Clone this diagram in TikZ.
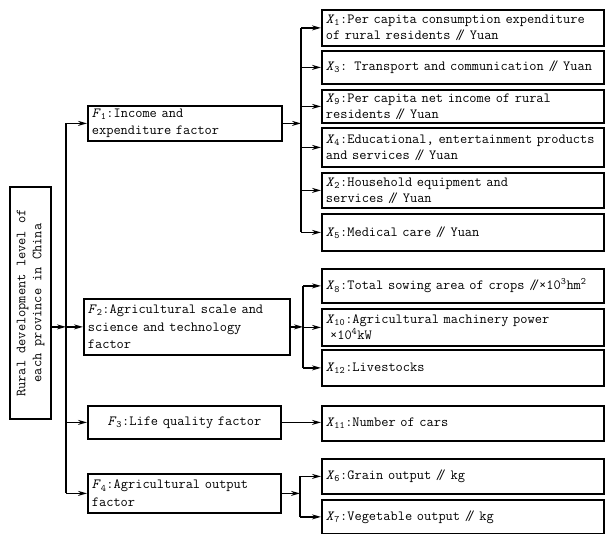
\documentclass[tikz,border=0pt]{standalone}
\usepackage{fontspec}
\usetikzlibrary{arrows.meta}
\newcommand{\sepm}{/\kern-0.32em/}
\newcommand{\vx}[1]{\textit{X}\textsubscript{#1}}
\newcommand{\vf}[1]{\textit{F}\textsubscript{#1}}
\begin{document}
\begin{tikzpicture}[x=1pt,y=-1pt,
  box/.style={draw, line width=1.8pt, inner xsep=4pt, inner ysep=0pt,
    font=\ttfamily\fontsize{14}{16}\selectfont, align=left},
  xbox/.style={box, anchor=north west, text width=274pt, minimum width=282pt},
  fbox/.style={box, anchor=north west, font=\ttfamily\fontsize{14}{17.5}\selectfont},
  arr/.style={line width=1.5pt, -{Stealth[length=9pt,width=5pt]}},
  ln/.style={line width=1.5pt}]
\useasboundingbox (0,0) rectangle (605,534);

% root
\node[box, rotate=90, align=center, minimum width=232pt, minimum height=41pt]
  (root) at (30.5,303) {Rural development level of\\each province in China};

% factors
\node[fbox, text width=186pt, minimum width=194pt, minimum height=35pt] (f1) at (87,105)
  {\vf{1}:Income and\\expenditure factor};
\node[fbox, text width=198pt, minimum width=206pt, minimum height=56pt] (f2) at (83,298)
  {\vf{2}:Agricultural scale and\\science and technology\\factor};
\node[fbox, align=center, text width=185pt, minimum width=193pt, minimum height=33pt] (f3) at (87,405)
  {\vf{3}:Life quality factor};
\node[fbox, text width=185pt, minimum width=193pt, minimum height=39pt] (f4) at (87,473)
  {\vf{4}:Agricultural output\\factor};

% indicators
\node[xbox, minimum height=36pt] (x1) at (321,9)
  {\vx{1}:Per capita consumption expenditure\\of rural residents \sepm{} Yuan};
\node[xbox, minimum height=33pt] (x3) at (321,50)
  {\vx{3}: Transport and communication \sepm{} Yuan};
\node[xbox, minimum height=33pt] (x9) at (321,89)
  {\vx{9}:Per capita net income of rural\\residents \sepm{} Yuan};
\node[xbox, minimum height=39pt] (x4) at (321,127)
  {\vx{4}:Educational, entertainment products\\and services \sepm{} Yuan};
\node[xbox, minimum height=35pt] (x2) at (321,172)
  {\vx{2}:Household equipment and\\services \sepm{} Yuan};
\node[xbox, minimum height=37pt] (x5) at (321,213)
  {\vx{5}:Medical care \sepm{} Yuan};
\node[xbox, minimum height=34pt] (x8) at (321,268)
  {\vx{8}:Total sowing area of crops \sepm{}×10\textsuperscript{3}hm\textsuperscript{2}};
\node[xbox, minimum height=37pt] (x10) at (321,308)
  {\vx{10}:Agricultural machinery power\\\hspace*{0.3em}×10\textsuperscript{4}kW};
\node[xbox, minimum height=36pt] (x12) at (321,349)
  {\vx{12}:Livestocks};
\node[xbox, minimum height=35pt] (x11) at (321,405)
  {\vx{11}:Number of cars};
\node[xbox, minimum height=35pt] (x6) at (321,458)
  {\vx{6}:Grain output \sepm{} kg};
\node[xbox, minimum height=34pt] (x7) at (321,499)
  {\vx{7}:Vegetable output \sepm{} kg};

% trunk coordinates
\coordinate (ta) at (66,0);
\coordinate (tb) at (301,0);
\coordinate (tc) at (303,0);
\coordinate (td) at (300,0);

% root to factors
\draw[arr] (root.south |- f2.west) -- (ta |- f2.west);
\draw[ln] (ta |- f1.west) -- (ta |- f4.west);
\foreach \f in {f1,f2,f3,f4} \draw[arr] (ta |- \f.west) -- (\f.west);

% F1
\draw[arr] (f1.east) -- (tb |- f1.east);
\draw[ln] (tb |- x1.west) -- (tb |- x5.west);
\foreach \x in {x1,x3,x9,x4,x2,x5} \draw[arr] (tb |- \x.west) -- (\x.west);

% F2
\draw[arr] (f2.east) -- (tc |- f2.east);
\draw[ln] (tc |- x8.west) -- (tc |- x12.west);
\foreach \x in {x8,x10,x12} \draw[arr] (tc |- \x.west) -- (\x.west);

% F3
\draw[arr] (f3.east) -- (f3.east -| x11.west);

% F4
\draw[arr] (f4.east) -- (td |- f4.east);
\draw[ln] (td |- x6.west) -- (td |- x7.west);
\foreach \x in {x6,x7} \draw[arr] (td |- \x.west) -- (\x.west);
\end{tikzpicture}
\end{document}
